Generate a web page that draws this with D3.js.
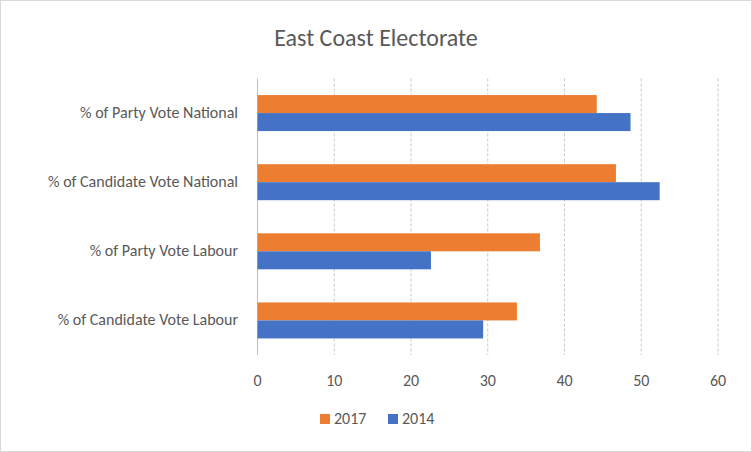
<!DOCTYPE html><html><head><script src="https://cdn.jsdelivr.net/npm/d3@7"></script>
<style>body{margin:0}svg{font-family:Calibri,Carlito,"Liberation Sans",sans-serif}</style></head><body><script>
const categories=["% of Party Vote National","% of Candidate Vote National","% of Party Vote Labour","% of Candidate Vote Labour"];
const v2017=[44.2,46.7,36.8,33.8];
const v2014=[48.6,52.4,22.6,29.4];
const ticks=[0,10,20,30,40,50,60];
const W=752,H=452;
const svg=d3.select("body").append("svg").attr("width",W).attr("height",H);
svg.append("rect").attr("x",0.5).attr("y",0.5).attr("width",W-1).attr("height",H-1).attr("fill","#fff").attr("stroke","#d9d9d9");
const x=d3.scaleLinear().domain([0,60]).range([257.5,718]);
const y=d3.scaleBand().domain(categories).range([78.5,355]);
svg.append("text").attr("x",376).attr("y",46).attr("text-anchor","middle").attr("font-size",24).attr("fill","#595959").text("East Coast Electorate");
svg.selectAll(".g").data(ticks).join("line").attr("x1",d=>x(d)).attr("x2",d=>x(d)).attr("y1",78.5).attr("y2",355)
 .attr("stroke",d=>d===0?"#bfbfbf":"#c8c8c8").attr("stroke-dasharray",d=>d===0?null:"3,2");
svg.selectAll(".t").data(ticks).join("text").attr("x",d=>x(d)).attr("y",386).attr("text-anchor","middle").attr("font-size",16).attr("fill","#595959").text(d=>d);
const bh=18;
categories.forEach((c,i)=>{
 const cy=y(c)+y.bandwidth()/2;
 svg.append("rect").attr("x",x(0)).attr("y",cy-bh).attr("width",x(v2017[i])-x(0)).attr("height",bh).attr("fill","#ed7d31");
 svg.append("rect").attr("x",x(0)).attr("y",cy).attr("width",x(v2014[i])-x(0)).attr("height",bh).attr("fill","#4472c4");
 svg.append("text").attr("x",238).attr("y",cy+5).attr("text-anchor","end").attr("font-size",16).attr("fill","#595959").text(c);
});
[["2017","#ed7d31",320],["2014","#4472c4",388]].forEach(([t,c,lx])=>{
 svg.append("rect").attr("x",lx).attr("y",414).attr("width",10).attr("height",10).attr("fill",c);
 svg.append("text").attr("x",lx+14).attr("y",424).attr("font-size",16).attr("fill","#595959").text(t);
});
</script></body></html>
